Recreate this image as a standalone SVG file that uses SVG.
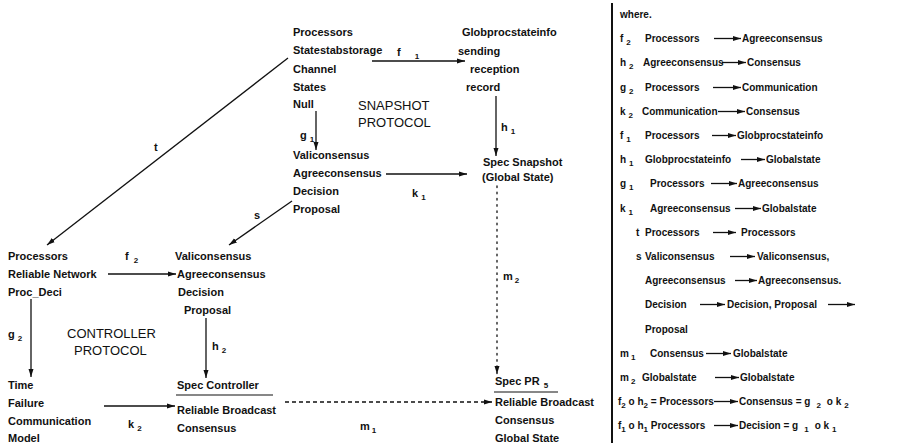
<svg xmlns="http://www.w3.org/2000/svg" width="905" height="445" viewBox="0 0 905 445">
  <defs>
    <style>
      .t { font-family: "Liberation Sans", Arial, sans-serif; font-size: 11px; font-weight: bold; fill: #111; }
      .r { font-family: "Liberation Sans", Arial, sans-serif; font-size: 10px; font-weight: bold; fill: #111; }
      .p { font-family: "Liberation Sans", Arial, sans-serif; font-size: 13px; fill: #111; }
      .sub { font-size: 8px; }
      .ln { stroke: #111; stroke-width: 1.3; fill: none; }
      .dash { stroke-dasharray: 4 3; }
      .dot { stroke-dasharray: 1.6 4.6; stroke-linecap: round; }
      .ul { stroke: #111; stroke-width: 1.2; }
    </style>
    <marker id="ah" viewBox="0 0 8 6" refX="8" refY="3" markerWidth="8" markerHeight="6" markerUnits="userSpaceOnUse" orient="auto">
      <path d="M0,0.5 L8,3 L0,5.5 z" fill="#111"/>
    </marker>
  </defs>
  <rect width="905" height="445" fill="#fff"/>

  <!-- snapshot protocol -->
  <g id="snap-processors">
    <text class="t" x="293" y="36">Processors</text>
    <text class="t" x="293" y="54">Statestabstorage</text>
    <text class="t" x="293" y="73">Channel</text>
    <text class="t" x="293" y="91">States</text>
    <text class="t" x="293" y="108">Null</text>
  </g>
  <g id="snap-globproc">
    <text class="t" x="462" y="36">Globprocstateinfo</text>
    <text class="t" x="458" y="55">sending</text>
    <text class="t" x="470" y="73">reception</text>
    <text class="t" x="466" y="91">record</text>
  </g>
  <g id="snap-title">
    <text class="p" x="358" y="110">SNAPSHOT</text>
    <text class="p" x="358" y="127">PROTOCOL</text>
  </g>
  <g id="snap-valiconsensus">
    <text class="t" x="293" y="159">Valiconsensus</text>
    <text class="t" x="293" y="177">Agreeconsensus</text>
    <text class="t" x="293" y="195">Decision</text>
    <text class="t" x="293" y="213">Proposal</text>
  </g>
  <g id="spec-snapshot">
    <text class="t" x="483" y="166">Spec  Snapshot</text>
    <text class="t" x="482" y="181">(Global State)</text>
  </g>

  <!-- controller protocol -->
  <g id="ctrl-processors">
    <text class="t" x="8" y="260">Processors</text>
    <text class="t" x="8" y="278">Reliable Network</text>
    <text class="t" x="8" y="296">Proc_Deci</text>
  </g>
  <g id="ctrl-valiconsensus">
    <text class="t" x="175" y="260">Valiconsensus</text>
    <text class="t" x="177" y="278">Agreeconsensus</text>
    <text class="t" x="178" y="296">Decision</text>
    <text class="t" x="184" y="314">Proposal</text>
  </g>
  <g id="ctrl-title">
    <text class="p" x="67" y="338">CONTROLLER</text>
    <text class="p" x="74" y="355">PROTOCOL</text>
  </g>
  <g id="ctrl-model">
    <text class="t" x="8" y="389">Time</text>
    <text class="t" x="8" y="407">Failure</text>
    <text class="t" x="8" y="425">Communication</text>
    <text class="t" x="8" y="442">Model</text>
  </g>
  <g id="spec-controller">
    <text class="t" x="177" y="389">Spec  Controller</text>
    <line class="ul" x1="176" y1="395" x2="273" y2="395"/>
    <text class="t" x="177" y="414">Reliable Broadcast</text>
    <text class="t" x="177" y="432">Consensus</text>
  </g>
  <g id="spec-pr">
    <text class="t" x="495" y="385">Spec  PR<tspan class="sub" dx="4" dy="3">5</tspan></text>
    <line class="ul" x1="494" y1="392" x2="558" y2="392"/>
    <text class="t" x="495" y="406">Reliable Broadcast</text>
    <text class="t" x="495" y="424">Consensus</text>
    <text class="t" x="495" y="442">Global State</text>
  </g>

  <!-- connectors -->
  <g id="connectors">
    <line class="ln" x1="372" y1="61" x2="465" y2="61" marker-end="url(#ah)"/>
    <line class="ln" x1="316" y1="111" x2="316" y2="150" marker-end="url(#ah)"/>
    <line class="ln" x1="496" y1="96" x2="496" y2="156" marker-end="url(#ah)"/>
    <line class="ln" x1="386" y1="174" x2="467" y2="174" marker-end="url(#ah)"/>
    <line class="ln dot" x1="497" y1="186" x2="497" y2="374" marker-end="url(#ah)"/>
    <line class="ln" x1="288" y1="58" x2="47" y2="245" marker-end="url(#ah)"/>
    <line class="ln" x1="292" y1="201" x2="229" y2="245" marker-end="url(#ah)"/>
    <line class="ln" x1="108" y1="274" x2="176" y2="274" marker-end="url(#ah)"/>
    <line class="ln" x1="31" y1="299" x2="31" y2="377" marker-end="url(#ah)"/>
    <line class="ln" x1="206" y1="318" x2="206" y2="378" marker-end="url(#ah)"/>
    <line class="ln" x1="104" y1="406" x2="175" y2="406" marker-end="url(#ah)"/>
    <line class="ln dash" x1="285" y1="402" x2="492" y2="402" marker-end="url(#ah)"/>

    <!-- connector labels -->
    <text class="t" x="397" y="56">f<tspan class="sub" dx="14" dy="3">1</tspan></text>
    <text class="t" x="300" y="139">g<tspan class="sub" dx="3" dy="3">1</tspan></text>
    <text class="t" x="501" y="131">h<tspan class="sub" dx="3" dy="3">1</tspan></text>
    <text class="t" x="412" y="197">k<tspan class="sub" dx="3" dy="3">1</tspan></text>
    <text class="t" x="503" y="280">m<tspan class="sub" dx="2" dy="3">2</tspan></text>
    <text class="t" x="154" y="151">t</text>
    <text class="t" x="254" y="219">s</text>
    <text class="t" x="125" y="260">f<tspan class="sub" dx="5" dy="3">2</tspan></text>
    <text class="t" x="8" y="338">g<tspan class="sub" dx="3" dy="3">2</tspan></text>
    <text class="t" x="212" y="350">h<tspan class="sub" dx="3" dy="3">2</tspan></text>
    <text class="t" x="128" y="428">k<tspan class="sub" dx="3" dy="3">2</tspan></text>
    <text class="t" x="360" y="430">m<tspan class="sub" dx="2" dy="3">1</tspan></text>
  </g>

  <!-- legend of maps -->
  <g id="legend">
    <line x1="612" y1="3" x2="612" y2="443" stroke="#111" stroke-width="2"/>
    <text class="r" x="620" y="18">where.</text>

    <text class="r" x="620" y="42">f<tspan class="sub" dx="3" dy="3">2</tspan></text>
    <text class="r" x="645" y="42">Processors</text>
    <line class="ln" x1="714" y1="38.5" x2="741" y2="38.5" marker-end="url(#ah)"/>
    <text class="r" x="742" y="42">Agreeconsensus</text>

    <text class="r" x="620" y="66">h<tspan class="sub" dx="3" dy="3">2</tspan></text>
    <text class="r" x="643" y="66">Agreeconsensus</text>
    <line class="ln" x1="722" y1="62.5" x2="746" y2="62.5" marker-end="url(#ah)"/>
    <text class="r" x="747" y="66">Consensus</text>

    <text class="r" x="620" y="91">g<tspan class="sub" dx="3" dy="3">2</tspan></text>
    <text class="r" x="645" y="91">Processors</text>
    <line class="ln" x1="713" y1="87.5" x2="741" y2="87.5" marker-end="url(#ah)"/>
    <text class="r" x="742" y="91">Communication</text>

    <text class="r" x="620" y="115">k<tspan class="sub" dx="3" dy="3">2</tspan></text>
    <text class="r" x="642" y="115">Communication</text>
    <line class="ln" x1="718" y1="111.5" x2="745" y2="111.5" marker-end="url(#ah)"/>
    <text class="r" x="746" y="115">Consensus</text>

    <text class="r" x="620" y="139">f<tspan class="sub" dx="3" dy="3">1</tspan></text>
    <text class="r" x="645" y="139">Processors</text>
    <line class="ln" x1="712" y1="135.5" x2="736" y2="135.5" marker-end="url(#ah)"/>
    <text class="r" x="737" y="139">Globprocstateinfo</text>

    <text class="r" x="620" y="163">h<tspan class="sub" dx="3" dy="3">1</tspan></text>
    <text class="r" x="645" y="163">Globprocstateinfo</text>
    <line class="ln" x1="741" y1="159.5" x2="765" y2="159.5" marker-end="url(#ah)"/>
    <text class="r" x="766" y="163">Globalstate</text>

    <text class="r" x="620" y="187">g<tspan class="sub" dx="3" dy="3">1</tspan></text>
    <text class="r" x="650" y="187">Processors</text>
    <line class="ln" x1="711" y1="183.5" x2="737" y2="183.5" marker-end="url(#ah)"/>
    <text class="r" x="738" y="187">Agreeconsensus</text>

    <text class="r" x="620" y="212">k<tspan class="sub" dx="3" dy="3">1</tspan></text>
    <text class="r" x="650" y="212">Agreeconsensus</text>
    <line class="ln" x1="735" y1="208.5" x2="761" y2="208.5" marker-end="url(#ah)"/>
    <text class="r" x="762" y="212">Globalstate</text>

    <text class="r" x="636" y="236">t</text>
    <text class="r" x="645" y="236">Processors</text>
    <line class="ln" x1="713" y1="232.5" x2="736" y2="232.5" marker-end="url(#ah)"/>
    <text class="r" x="741" y="236">Processors</text>

    <text class="r" x="636" y="260">s</text>
    <text class="r" x="645" y="260">Valiconsensus</text>
    <line class="ln" x1="730" y1="256.5" x2="755" y2="256.5" marker-end="url(#ah)"/>
    <text class="r" x="757" y="260">Valiconsensus,</text>

    <text class="r" x="645" y="284">Agreeconsensus</text>
    <line class="ln" x1="735" y1="280.5" x2="757" y2="280.5" marker-end="url(#ah)"/>
    <text class="r" x="758" y="284">Agreeconsensus.</text>

    <text class="r" x="645" y="308">Decision</text>
    <line class="ln" x1="700" y1="304.5" x2="725" y2="304.5" marker-end="url(#ah)"/>
    <text class="r" x="727" y="308">Decision, Proposal</text>
    <line class="ln" x1="828" y1="304.5" x2="855" y2="304.5" marker-end="url(#ah)"/>

    <text class="r" x="645" y="333">Proposal</text>

    <text class="r" x="620" y="357">m<tspan class="sub" dx="2" dy="3">1</tspan></text>
    <text class="r" x="650" y="357">Consensus</text>
    <line class="ln" x1="706" y1="353.5" x2="731" y2="353.5" marker-end="url(#ah)"/>
    <text class="r" x="733" y="357">Globalstate</text>

    <text class="r" x="620" y="381">m<tspan class="sub" dx="2" dy="3">2</tspan></text>
    <text class="r" x="642" y="381">Globalstate</text>
    <line class="ln" x1="715" y1="377.5" x2="739" y2="377.5" marker-end="url(#ah)"/>
    <text class="r" x="740" y="381">Globalstate</text>

    <text class="r" x="618" y="405">f<tspan class="sub" dy="3">2</tspan><tspan dy="-3"> o h</tspan><tspan class="sub" dy="3">2</tspan><tspan dy="-3"> = Processors</tspan></text>
    <line class="ln" x1="714" y1="401.5" x2="738" y2="401.5" marker-end="url(#ah)"/>
    <text class="r" x="739" y="405">Consensus = g<tspan class="sub" dx="6" dy="3">2</tspan><tspan dx="6" dy="-3">o k</tspan><tspan class="sub" dx="3" dy="3">2</tspan></text>

    <text class="r" x="618" y="429">f<tspan class="sub" dy="3">1</tspan><tspan dy="-3"> o h</tspan><tspan class="sub" dy="3">1</tspan><tspan dy="-3">   Processors</tspan></text>
    <line class="ln" x1="714" y1="425.5" x2="738" y2="425.5" marker-end="url(#ah)"/>
    <text class="r" x="739" y="429">Decision = g<tspan class="sub" dx="6" dy="3">1</tspan><tspan dx="6" dy="-3">o k</tspan><tspan class="sub" dx="3" dy="3">1</tspan></text>
  </g>
</svg>
